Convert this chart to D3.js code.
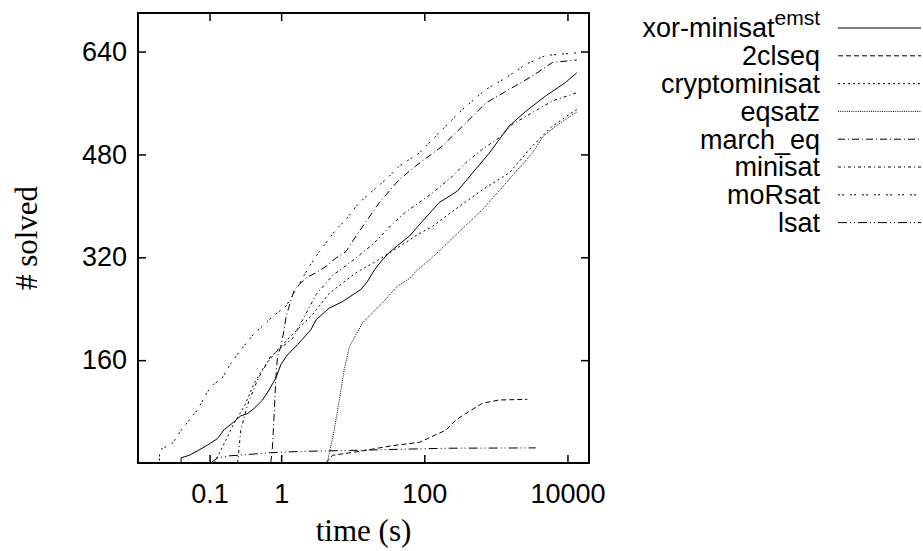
<!DOCTYPE html>
<html>
<head>
<meta charset="utf-8">
<script src="https://cdn.jsdelivr.net/npm/d3@7"></script>
<style>
  body { margin: 0; background: #fff; }
  .tick text { font-family: "Liberation Sans", Arial, sans-serif; font-size: 27px; fill: #000; }
  .tick line { stroke: #000; stroke-width: 1.5; }
</style>
</head>
<body>
<div class="chart"></div>
<script>
// Define SVG dimensions.
var w = 923,
    h = 551;

// Plot box edges (pixels).
var plotLeft = 138, plotRight = 589, plotTop = 13, plotBottom = 463;

// Tick values.
var xTicks = [0.1, 1, 100, 10000];
var yTicks = [160, 320, 480, 640];

// Legend order and dash styles.
var solverNames = ["xor-minisat", "2clseq", "cryptominisat", "eqsatz", "march_eq", "minisat", "moRsat", "lsat"];
var dashes = [null, "5,3", "2,3", "1,1.2", "7,3,1,3", "3,3,1,3", "2,2,2,6", "9,3,1,3,1,3"];

// Series: [time (s), # solved].
var xorMinisat = [[0.040,0],[0.040,8],[0.052,12],[0.068,19],[0.094,28],[0.129,38],[0.16,52],[0.22,64],[0.27,73],[0.34,77],[0.42,85],[0.55,98],[0.68,114],[0.84,132],[0.99,153],[1.22,168],[1.69,184],[2.59,207],[3.08,223],[4.7,241],[7.2,251],[13,270],[16,282],[20,300],[25,314],[32,327],[42,338],[62,353],[94,376],[161,405],[290,423],[470,451],[808,482],[1528,524],[2612,547],[4966,571],[9400,592],[13500,607]];
var twoClseq = [[4.2,0],[5.25,12],[12.4,18],[35.7,27],[85,32],[145,44],[200,51],[276,67],[380,77],[649,93],[1109,98],[2750,99]];
var cryptominisat = [[0.116,0],[0.144,20],[0.178,41],[0.22,62],[0.305,88],[0.42,124],[0.58,150],[0.89,176],[1.36,197],[2.76,231],[4.7,264],[11.1,296],[20,312],[40,333],[80,355],[130,368],[307,399],[648,425],[1528,451],[3230,493],[6140,524],[13500,550]];
var eqsatz = [[4.4,0],[5.5,51],[6.5,98],[7.6,145],[9,181],[13.7,218],[26,249],[42,275],[62,287],[76,298],[130,320],[233,347],[648,394],[1528,441],[3230,482],[4560,508],[6840,524],[13500,546]];
var marchEq = [[0.716,0],[0.756,25],[0.80,77],[0.84,129],[0.89,166],[0.99,181],[1.10,207],[1.17,228],[1.53,270],[2.23,288],[3.08,296],[4.24,306],[5.84,319],[8.06,329],[11.1,353],[23.5,405],[44.7,441],[76,462],[179,493],[380,529],[723,560],[1528,581],[3230,602],[6140,623],[13500,627]];
var minisat = [[0.246,0],[0.273,51],[0.338,90],[0.467,129],[0.716,166],[1.45,194],[3.08,262],[5.25,292],[10,315],[19,340],[36,372],[53,389],[130,420],[247,446],[380,467],[648,488],[1109,506],[1710,527],[3230,545],[6140,563],[13500,576]];
var moRsat = [[0.01,0],[0.02,0],[0.02,20],[0.0305,31],[0.040,51],[0.055,70],[0.068,83],[0.094,111],[0.116,124],[0.144,129],[0.198,155],[0.273,176],[0.41,200],[0.76,228],[1.17,244],[1.62,270],[2.48,306],[3.42,329],[5.84,363],[8.1,379],[11.1,399],[14.5,412],[32.4,446],[44.7,462],[85,482],[179,519],[341,550],[723,581],[1374,599],[2612,620],[4966,634],[13500,638]];
var lsat = [[0.104,0],[0.129,8],[0.18,11],[0.25,12],[0.71,16],[1.8,18],[9,19.5],[85,22],[220,23],[3600,23.5]];

var series = [xorMinisat, twoClseq, cryptominisat, eqsatz, marchEq, minisat, moRsat, lsat];

// Create SVG element
var svg = d3.select(".chart").append("svg")
  .attr("width", w)
  .attr("height", h);

var xScale = d3.scaleLog()
  .domain([0.01, 20000])
  .range([plotLeft, plotRight]);

var yScale = d3.scaleLinear()
  .domain([0, 700])
  .range([plotBottom, plotTop]);

// Axes, ticks pointing inward on all four sides.
svg.append("g")
  .attr("transform", "translate(0," + plotBottom + ")")
  .call(d3.axisBottom(xScale).tickValues(xTicks).tickFormat(function(d) { return d; })
    .tickSizeInner(-8).tickSizeOuter(0).tickPadding(21));

svg.append("g")
  .attr("transform", "translate(0," + plotTop + ")")
  .call(d3.axisTop(xScale).tickValues(xTicks).tickFormat("")
    .tickSizeInner(-8).tickSizeOuter(0));

svg.append("g")
  .attr("transform", "translate(" + plotLeft + ",0)")
  .call(d3.axisLeft(yScale).tickValues(yTicks)
    .tickSizeInner(-8).tickSizeOuter(0).tickPadding(11));

svg.append("g")
  .attr("transform", "translate(" + plotRight + ",0)")
  .call(d3.axisRight(yScale).tickValues(yTicks).tickFormat("")
    .tickSizeInner(-8).tickSizeOuter(0));

svg.selectAll(".domain").remove();

// Lines.
var line = d3.line()
  .x(function(d) { return xScale(d[0]); })
  .y(function(d) { return yScale(d[1]); });

svg.selectAll("path.series")
  .data(series)
  .enter()
  .append("path")
  .attr("class", "series")
  .attr("d", line)
  .attr("fill", "none")
  .attr("stroke", "#000")
  .attr("stroke-width", 1)
  .attr("stroke-dasharray", function(d, i) { return dashes[i]; });

// Plot border.
svg.append("rect")
  .attr("x", plotLeft)
  .attr("y", plotTop)
  .attr("width", plotRight - plotLeft)
  .attr("height", plotBottom - plotTop)
  .attr("fill", "none")
  .attr("stroke", "#000")
  .attr("stroke-width", 2);

// Axis titles.
svg.append("text")
  .attr("x", (plotLeft + plotRight) / 2)
  .attr("y", 541)
  .style("text-anchor", "middle")
  .style("font-family", "'Liberation Serif', 'Times New Roman', serif")
  .style("font-size", "31px")
  .text("time (s)");

svg.append("text")
  .attr("transform", "translate(37," + ((plotTop + plotBottom) / 2) + ") rotate(-90)")
  .style("text-anchor", "middle")
  .style("font-family", "'Liberation Serif', 'Times New Roman', serif")
  .style("font-size", "31px")
  .text("# solved");

// Legend.
var legend = svg.selectAll("g.legend")
  .data(solverNames)
  .enter()
  .append("g")
  .attr("class", "legend")
  .attr("transform", function(d, i) { return "translate(0," + (28 + i * 27.8) + ")"; });

legend.append("text")
  .attr("x", 820)
  .attr("dy", "0.35em")
  .style("text-anchor", "end")
  .style("font-family", "'Liberation Sans', Arial, sans-serif")
  .style("font-size", "27px")
  .each(function(d, i) {
    var t = d3.select(this);
    t.append("tspan").text(d);
    if (i === 0) {
      t.append("tspan")
        .attr("dy", "-12")
        .style("font-size", "21px")
        .text("emst");
    }
  });

legend.append("line")
  .attr("x1", 838)
  .attr("x2", 921)
  .attr("stroke", "#000")
  .attr("stroke-width", 1)
  .attr("stroke-dasharray", function(d, i) { return dashes[i]; });
</script>
</body>
</html>
